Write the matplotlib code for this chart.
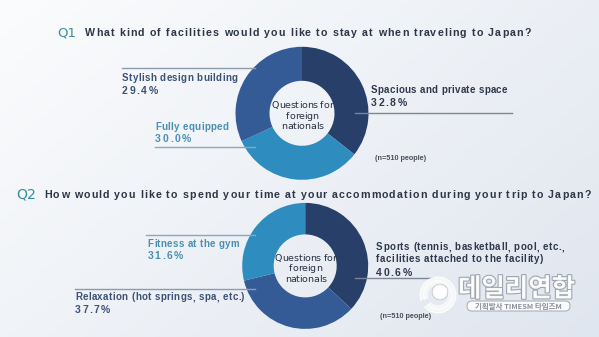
import numpy as np
import matplotlib
matplotlib.use("Agg")
import matplotlib.pyplot as plt
from matplotlib import patheffects as pe
from matplotlib.font_manager import FontProperties, findfont, get_font
from matplotlib.ft2font import LoadFlags
from matplotlib.patches import FancyBboxPatch, Circle, Arc

# data
q1_title = "What kind of facilities would you like to stay at when traveling to Japan?"
q1_labels = ["Spacious and private space", "Fully equipped", "Stylish design building"]
q1_values = [32.8, 30.0, 29.4]

q2_title = "How would you like to spend your time at your accommodation during your trip to Japan?"
q2_labels = ["Sports (tennis, basketball, pool, etc.,",
             "Relaxation (hot springs, spa, etc.)",
             "Fitness at the gym"]
q2_label_extra = "facilities attached to the facility)"
q2_values = [40.6, 37.7, 31.6]

center_lines = ["Questions for", "foreign", "nationals"]
n_text = "(n=510 people)"

DARK = "#273f69"
MID = "#355b96"
TEAL = "#2e8cbe"

W, H = 599, 337
fig = plt.figure(figsize=(W / 100, H / 100), dpi=100)
ax = fig.add_axes([0, 0, 1, 1])
r = fig.canvas.get_renderer()

# background gradient, white top-left to pale blue-grey bottom-right
gx, gy = np.meshgrid(np.linspace(0, 1, 200), np.linspace(0, 1, 120))
g = 0.6 * gx + 0.4 * gy
c0 = np.array([0.985, 0.988, 0.993])
c1 = np.array([0.878, 0.902, 0.937])
ax.imshow(c0 + (c1 - c0) * g[..., None], extent=(0, W, H, 0), aspect="auto", zorder=0)


def advances(s, fp):
    font = get_font(findfont(fp))
    font.set_size(fp.get_size_in_points(), 100)
    return [font.load_char(ord(c), flags=LoadFlags.NO_HINTING).linearHoriAdvance / 65536
            for c in s]


def tracked(x, y, s, width, size, family="Liberation Sans", weight="bold",
            color="k", center=False, zorder=4):
    # letter-spaced text: place each char so the whole string spans `width` px
    fp = FontProperties(family=family, weight=weight, size=size)
    adv = advances(s, fp)
    nat = sum(adv[:-1]) + adv[-1] * 0.9
    track = (width - nat) / max(len(s) - 1, 1)
    xc = x - width / 2 if center else x
    for ch, a in zip(s, adv):
        if ch != " ":
            ax.text(xc, y, ch, fontproperties=fp, color=color,
                    va="center", ha="left", zorder=zorder)
        xc += a + track


def fit(x, y, s, width, size=7, **kw):
    # draw text then scale it so it spans the given pixel width
    t = ax.text(x, y, s, fontsize=size, **kw)
    bb = t.get_window_extent(renderer=r)
    t.set_fontsize(size * width / bb.width)
    return t


def donut(values, colors, cx, cy, rad, ring):
    ax.pie(values, colors=colors, startangle=-90, counterclock=True,
           radius=rad, center=(cx, cy), wedgeprops=dict(width=ring, linewidth=0),
           frame=True)
    for line, dy, w in zip(center_lines, [-7.5, 3.0, 13.5], [61, 32, 41]):
        tracked(cx, cy + dy, line, w, 6.8, family="DejaVu Sans", weight="normal",
                color="#283242", center=True, zorder=5)


TSZ, LSZ, PSZ = 7.7, 7.0, 7.5
C_MID, C_TEAL, C_DARK = "#3d5276", "#4a90b2", "#2e394d"

# ---- Q1 ----
fit(57, 32.7, "Q1", 19, 10, color="#3a8e9a", family="DejaVu Sans", va="center")
tracked(85, 32.7, q1_title, 445, TSZ, color="#2c3646")

ax.plot([122, 255], [68, 68], color="#8d9bb0", lw=1, zorder=2)
ax.plot([155, 255], [147.3, 147.3], color="#86a9bd", lw=1, zorder=2)
ax.plot([355, 511.7], [113.3, 113.3], color="#7e8696", lw=1, zorder=2)

tracked(122, 78.3, q1_labels[2], 114.7, LSZ, color=C_MID)
tracked(122, 91, f"{q1_values[2]:.1f}%", 34.7, PSZ, color=C_MID)
tracked(155, 127, q1_labels[1], 73, LSZ, color=C_TEAL)
tracked(155, 139.3, f"{q1_values[1]:.1f}%", 35, PSZ, color=C_TEAL)
tracked(371, 90.3, q1_labels[0], 135.7, LSZ, color=C_DARK)
tracked(371, 103.3, f"{q1_values[0]:.1f}%", 34.7, PSZ, color=C_DARK)
fit(375, 159, n_text, 51.7, 5, color="#4a505c", family="Liberation Sans",
    weight="bold", va="center")

donut(q1_values, [DARK, TEAL, MID], 302, 113.3, 66.5, 34)

# ---- Q2 ----
fit(16.7, 195, "Q2", 20, 10, color="#3a8e9a", family="DejaVu Sans", va="center")
tracked(44.3, 195, q2_title, 545.7, TSZ, color="#2c3646")

ax.plot([146, 255], [235, 235], color="#86a9bd", lw=1, zorder=2)
ax.plot([75, 255], [289.3, 289.3], color="#8d9bb0", lw=1, zorder=2)
ax.plot([355, 431.7], [278.3, 278.3], color="#7e8696", lw=1, zorder=2)

tracked(147.7, 244, q2_labels[2], 90.6, LSZ, color=C_TEAL)
tracked(147.7, 256, f"{q2_values[2]:.1f}%", 34, PSZ, color=C_TEAL)
tracked(75, 297.3, q2_labels[1], 169, LSZ, color=C_MID)
tracked(75, 310, f"{q2_values[1]:.1f}%", 34.3, PSZ, color=C_MID)
tracked(376, 247.3, q2_labels[0], 188, LSZ, color=C_DARK)
tracked(376, 259, q2_label_extra, 167, LSZ, color=C_DARK)
tracked(376, 272.7, f"{q2_values[0]:.1f}%", 34.7, PSZ, color=C_DARK)
fit(380, 316, n_text, 51.7, 5, color="#4a505c", family="Liberation Sans",
    weight="bold", va="center")

donut(q2_values, [DARK, MID, TEAL], 305.2, 265.9, 63, 31.5)

# ---- watermark ----
shadow = [pe.withStroke(linewidth=1.6, foreground="#9aa0aa")]
for rr, lw in [(16, 3.5), (12, 2.5)]:
    ax.add_patch(Arc((438, 295), 2 * rr, 2 * rr, theta1=-200, theta2=140, color="white",
                     lw=lw, alpha=0.9, zorder=6, path_effects=shadow))
ax.add_patch(Circle((440, 292), 7, color="white", alpha=0.9, zorder=6, path_effects=shadow))
wm = fit(458, 289, "데일리연합", 117, 14, color="white", family="Noto Sans CJK KR",
         weight="bold", va="center", alpha=0.92, zorder=6)
wm.set_path_effects(shadow)
ax.add_patch(FancyBboxPatch((467, 301), 103, 10, boxstyle="round,pad=0,rounding_size=5",
                            facecolor="white", edgecolor="#a0a6b0", lw=0.8, alpha=0.85, zorder=6))
fit(518.5, 306.2, "기획발사 TIMESM 타임즈M", 88, 5, color="#8c919b",
    family="Noto Sans CJK KR", weight="bold", ha="center", va="center", zorder=7)

ax.set_xlim(0, W)
ax.set_ylim(H, 0)
ax.set_aspect("auto")
ax.axis("off")

fig.savefig("out.png", dpi=100)
